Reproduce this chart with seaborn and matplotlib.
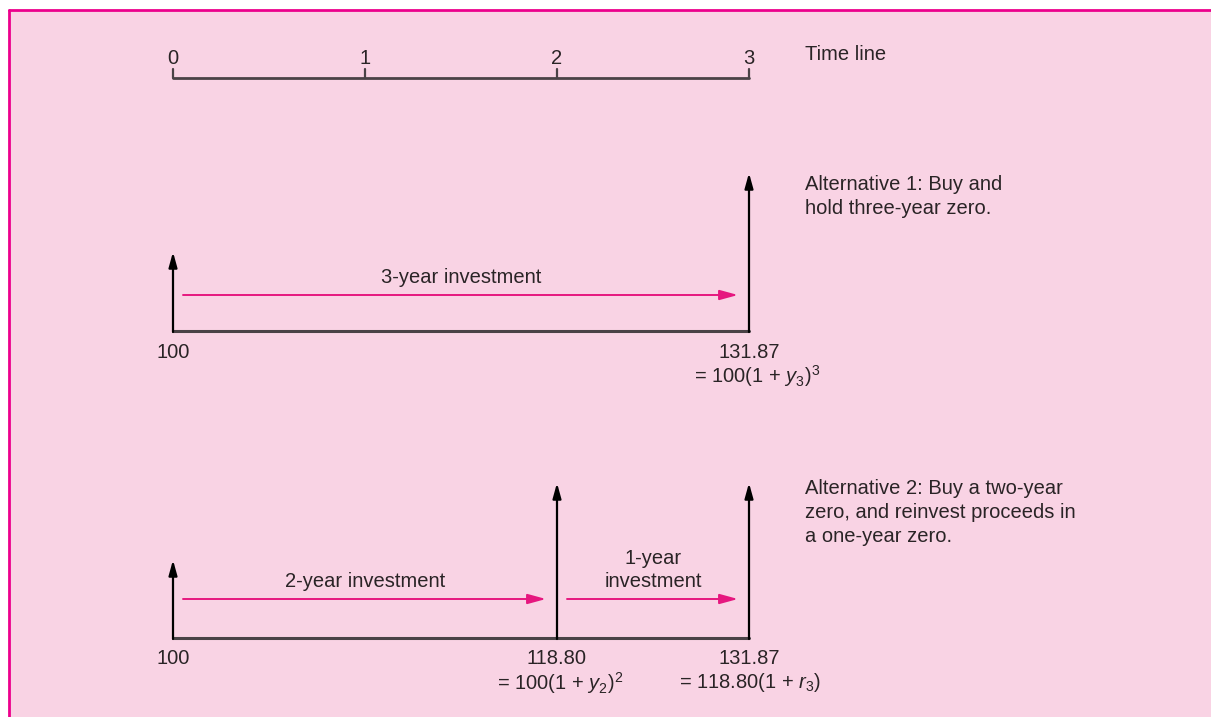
import pandas as pd
import seaborn as sns
import matplotlib.pyplot as plt
from matplotlib.patches import Rectangle

sns.set_style("white")
plt.rcParams['font.family'] = ['Liberation Sans', 'DejaVu Sans']
plt.rcParams['mathtext.fontset'] = 'custom'
plt.rcParams['mathtext.rm'] = 'Liberation Sans'
plt.rcParams['mathtext.it'] = 'Liberation Sans:italic'

# data
timeline_years = [0, 1, 2, 3]
timeline_labels = ["0", "1", "2", "3"]

alt1_years = [0, 3]
alt1_values = ["100", "131.87"]
alt1_formulas = ["", "= 100(1 + $\\mathit{y}_{3}$)$^{3}$"]
alt1_legs = [(0, 3, "3-year investment")]

alt2_years = [0, 2, 3]
alt2_values = ["100", "118.80", "131.87"]
alt2_formulas = ["", "= 100(1 + $\\mathit{y}_{2}$)$^{2}$", "= 118.80(1 + $\\mathit{r}_{3}$)"]
alt2_legs = [(0, 2, "2-year investment"), (2, 3, "1-year\ninvestment")]

notes = ["Time line",
         "Alternative 1: Buy and\nhold three-year zero.",
         "Alternative 2: Buy a two-year\nzero, and reinvest proceeds in\na one-year zero."]

# colours / layout
BG = "#F9D3E4"
MAGENTA = "#EC008C"
ARROW_PINK = "#E6177F"
TXT = "#2A2426"
BASE = "#4A4246"
FS = 14.5

X0, XSTEP = 173, 192   # pixel position of year 0 and pixel width of one year


def px(x):
    return (x - X0) / XSTEP


fig = plt.figure(figsize=(12.11, 7.17), dpi=100)
fig.patch.set_facecolor("white")
ax = fig.add_axes([0, 0, 1, 1])
ax.set_xlim(px(0), px(1211))
ax.set_ylim(717, 0)
ax.axis("off")

# pink panel with magenta top/left border
ax.add_patch(Rectangle((px(9), 10), px(1215) - px(9), 720, facecolor=BG, edgecolor="none", zorder=0))
ax.plot([px(9), px(1215)], [10, 10], color=MAGENTA, lw=2, zorder=1)
ax.plot([px(9), px(9)], [10, 720], color=MAGENTA, lw=2, zorder=1)

# time line
tl = pd.DataFrame({"year": [timeline_years[0], timeline_years[-1]], "y": [78, 78]})
sns.lineplot(data=tl, x="year", y="y", color=BASE, lw=2, ax=ax, zorder=2)
for yr, lab in zip(timeline_years, timeline_labels):
    ax.plot([yr, yr], [78, 69], color=BASE, lw=1.6, zorder=2)
    ax.text(yr, 58, lab, ha="center", va="center", fontsize=FS, color=TXT)
ax.text(px(805), 54, notes[0], ha="left", va="center", fontsize=FS, color=TXT)


def draw_alt(years, values, formulas, form_dx, legs, base_y, tops, leg_y, note, note_y):
    df = pd.DataFrame({"year": [years[0], years[-1]], "y": [base_y, base_y]})
    sns.lineplot(data=df, x="year", y="y", color=BASE, lw=2.2, ax=ax, zorder=2)
    for yr, top in zip(years, tops):
        ax.annotate("", xy=(yr, top), xytext=(yr, base_y + 1),
                    arrowprops=dict(arrowstyle="-|>,head_length=0.9,head_width=0.25",
                                    color="black", lw=1.6, shrinkA=0, shrinkB=0), zorder=3)
    for yr, val, form, dx in zip(years, values, formulas, form_dx):
        ax.text(yr, base_y + 21, val, ha="center", va="center", fontsize=FS, color=TXT)
        if form:
            ax.text(yr + dx / XSTEP, base_y + 45, form, ha="center", va="center", fontsize=FS, color=TXT)
    for a, b, lab in legs:
        ax.annotate("", xy=(b - px(184), leg_y), xytext=(a + px(183), leg_y),
                    arrowprops=dict(arrowstyle="-|>,head_length=1.1,head_width=0.3",
                                    color=ARROW_PINK, lw=1.4, shrinkA=0, shrinkB=0), zorder=3)
        ax.text((a + b) / 2, leg_y - 8, lab, ha="center", va="bottom", fontsize=FS,
                color=TXT, linespacing=1.3)
    ax.text(px(805), note_y, note, ha="left", va="top", fontsize=FS, color=TXT, linespacing=1.35)


draw_alt(alt1_years, alt1_values, alt1_formulas, [0, 8], alt1_legs, 331, [252, 173], 295, notes[1], 175)
draw_alt(alt2_years, alt2_values, alt2_formulas, [0, 3, 1], alt2_legs, 638, [560, 483, 483], 599, notes[2], 479)

fig.savefig("out.png", dpi=100)
